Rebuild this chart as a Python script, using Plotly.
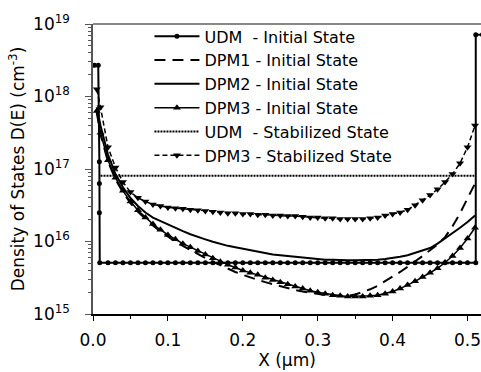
import plotly.graph_objects as go

# ---------------- data ----------------
x_grid = [0.005, 0.01, 0.02, 0.03, 0.04, 0.05, 0.06, 0.07, 0.08, 0.09,
          0.10, 0.11, 0.12, 0.13, 0.14, 0.15, 0.16, 0.17, 0.18, 0.19,
          0.20, 0.21, 0.22, 0.23, 0.24, 0.25, 0.26, 0.27, 0.28, 0.29,
          0.30, 0.31, 0.32, 0.33, 0.34, 0.35, 0.36, 0.37, 0.38, 0.39,
          0.40, 0.41, 0.42, 0.43, 0.44, 0.45, 0.46, 0.47, 0.48, 0.49,
          0.50, 0.51]

udm_init_x = [0.002, 0.007, 0.0085, 0.0085, 0.0085, 0.009,
              0.02, 0.03, 0.04, 0.05, 0.06, 0.07, 0.08, 0.09, 0.10,
              0.11, 0.12, 0.13, 0.14, 0.15, 0.16, 0.17, 0.18, 0.19, 0.20,
              0.21, 0.22, 0.23, 0.24, 0.25, 0.26, 0.27, 0.28, 0.29, 0.30,
              0.31, 0.32, 0.33, 0.34, 0.35, 0.36, 0.37, 0.38, 0.39, 0.40,
              0.41, 0.42, 0.43, 0.44, 0.45, 0.46, 0.47, 0.48, 0.49, 0.50,
              0.511, 0.511, 0.52]
udm_init_y = [2.7e18, 2.7e18, 1.26e17, 6.3e16, 2.5e16, 5.1e15,
              5.1e15, 5.1e15, 5.1e15, 5.1e15, 5.1e15, 5.1e15, 5.1e15, 5.1e15, 5.1e15,
              5.1e15, 5.1e15, 5.1e15, 5.1e15, 5.1e15, 5.1e15, 5.1e15, 5.1e15, 5.1e15, 5.1e15,
              5.1e15, 5.1e15, 5.1e15, 5.1e15, 5.1e15, 5.1e15, 5.1e15, 5.1e15, 5.1e15, 5.1e15,
              5.1e15, 5.1e15, 5.1e15, 5.1e15, 5.1e15, 5.1e15, 5.1e15, 5.1e15, 5.1e15, 5.1e15,
              5.1e15, 5.1e15, 5.1e15, 5.1e15, 5.1e15, 5.1e15, 5.1e15, 5.1e15, 5.1e15, 5.1e15,
              5.1e15, 7.1e18, 7.1e18]

dpm1_init = [6.0e17, 3.02e17, 1.26e17, 7.24e16, 4.79e16, 3.39e16, 2.57e16, 2.04e16, 1.66e16, 1.38e16,
             1.17e16, 1.0e16, 8.71e15, 7.59e15, 6.76e15, 5.89e15, 5.25e15, 4.68e15, 4.17e15, 3.80e15,
             3.47e15, 3.16e15, 2.95e15, 2.75e15, 2.57e15, 2.40e15, 2.24e15, 2.14e15, 2.04e15, 1.95e15,
             1.86e15, 1.82e15, 1.78e15, 1.78e15, 1.78e15, 1.86e15, 2.0e15, 2.19e15, 2.45e15, 2.82e15,
             3.24e15, 3.80e15, 4.47e15, 5.25e15, 6.31e15, 7.59e15, 9.12e15, 1.15e16, 1.62e16, 2.45e16,
             3.98e16, 6.31e16]

dpm2_init = [7.1e17, 3.98e17, 1.58e17, 8.5e16, 5.6e16, 3.98e16, 3.09e16, 2.51e16, 2.14e16, 1.91e16,
             1.75e16, 1.56e16, 1.39e16, 1.26e16, 1.15e16, 1.07e16, 9.9e15, 9.2e15, 8.71e15, 8.32e15,
             7.94e15, 7.59e15, 7.24e15, 6.92e15, 6.61e15, 6.46e15, 6.31e15, 6.17e15, 6.03e15, 5.89e15,
             5.75e15, 5.62e15, 5.62e15, 5.50e15, 5.50e15, 5.50e15, 5.50e15, 5.62e15, 5.62e15, 5.75e15,
             5.89e15, 6.17e15, 6.46e15, 6.92e15, 7.41e15, 8.13e15, 9.33e15, 1.10e16, 1.29e16, 1.55e16,
             1.86e16, 2.29e16]

dpm3_init = [6.3e17, 3.16e17, 1.32e17, 7.6e16, 5.0e16, 3.55e16, 2.69e16, 2.14e16, 1.74e16, 1.45e16,
             1.23e16, 1.07e16, 9.33e15, 8.32e15, 7.41e15, 6.61e15, 5.89e15, 5.25e15, 4.79e15, 4.37e15,
             3.98e15, 3.72e15, 3.47e15, 3.16e15, 2.95e15, 2.75e15, 2.57e15, 2.40e15, 2.24e15, 2.09e15,
             2.00e15, 1.91e15, 1.82e15, 1.78e15, 1.74e15, 1.74e15, 1.74e15, 1.78e15, 1.82e15, 1.91e15,
             2.04e15, 2.24e15, 2.51e15, 2.82e15, 3.24e15, 3.72e15, 4.27e15, 5.13e15, 6.31e15, 8.13e15,
             1.10e16, 1.55e16]

udm_stab_x = [0.010, 0.509]
udm_stab_y = [8.1e16, 8.1e16]

dpm3_stab = [1.26e18, 7.1e17, 2.0e17, 1.05e17, 6.6e16, 4.8e16, 4.0e16, 3.55e16, 3.24e16, 3.09e16,
             2.95e16, 2.88e16, 2.82e16, 2.75e16, 2.69e16, 2.63e16, 2.57e16, 2.51e16, 2.45e16, 2.45e16,
             2.40e16, 2.40e16, 2.34e16, 2.34e16, 2.29e16, 2.29e16, 2.24e16, 2.24e16, 2.19e16, 2.14e16,
             2.14e16, 2.09e16, 2.09e16, 2.04e16, 2.04e16, 2.04e16, 2.04e16, 2.09e16, 2.14e16, 2.29e16,
             2.40e16, 2.51e16, 2.75e16, 3.16e16, 3.72e16, 4.37e16, 5.25e16, 6.61e16, 8.51e16, 1.20e17,
             2.0e17, 3.98e17]

names = ["UDM\u00a0 - Initial State", "DPM1 - Initial State", "DPM2 - Initial State",
         "DPM3 - Initial State", "UDM\u00a0 - Stabilized State", "DPM3 - Stabilized State"]

y_tickvals = [1e15, 1e16, 1e17, 1e18, 1e19]
y_ticktext = ["10<sup>15</sup>", "10<sup>16</sup>", "10<sup>17</sup>", "10<sup>18</sup>", "10<sup>19</sup>"]
y_minor_vals = [m * d for d in (1e15, 1e16, 1e17, 1e18) for m in (2, 3, 4, 5, 6, 7, 8, 9)]
x_tickvals = [0.0, 0.1, 0.2, 0.3, 0.4, 0.5]
x_ticktext = ["0.0", "0.1", "0.2", "0.3", "0.4", "0.5"]
x_minor_vals = [0.05, 0.15, 0.25, 0.35, 0.45]

# ---------------- figure ----------------
BLK = "black"
fig = go.Figure()

fig.add_trace(go.Scatter(x=udm_init_x, y=udm_init_y, name=names[0], mode="lines+markers",
                         line=dict(color=BLK, width=2), marker=dict(symbol="circle", size=5, color=BLK),
                         legendgroup="a"))
fig.add_trace(go.Scatter(x=x_grid, y=dpm1_init, name=names[1], mode="lines",
                         line=dict(color=BLK, width=2, dash="11px,7px"), legendgroup="b"))
fig.add_trace(go.Scatter(x=x_grid, y=dpm2_init, name=names[2], mode="lines",
                         line=dict(color=BLK, width=2), legendgroup="c"))
fig.add_trace(go.Scatter(x=x_grid, y=dpm3_init, name=names[3], mode="lines+markers",
                         line=dict(color=BLK, width=1.5),
                         marker=dict(symbol="triangle-up", size=7, color=BLK), legendgroup="d"))
fig.add_trace(go.Scatter(x=udm_stab_x, y=udm_stab_y, name=names[4], mode="lines",
                         line=dict(color=BLK, width=2, dash="2px,1px"), legendgroup="e"))
fig.add_trace(go.Scatter(x=x_grid, y=dpm3_stab, name=names[5], mode="lines+markers",
                         line=dict(color=BLK, width=1.5, dash="5px,3px"),
                         marker=dict(symbol="triangle-down", size=7, color=BLK), legendgroup="f"))

FONT = "DejaVu Sans"
fig.update_layout(
    width=481, height=372,
    margin=dict(l=93, r=0, t=24, b=58),
    paper_bgcolor="white", plot_bgcolor="white",
    font=dict(family=FONT, color=BLK, size=16),
    showlegend=True,
    legend=dict(x=0.1455, y=1.016, xanchor="left", yanchor="top",
                bgcolor="rgba(0,0,0,0)", borderwidth=0,
                font=dict(family=FONT, size=16, color=BLK),
                tracegroupgap=3, itemwidth=45, traceorder="normal"),
    xaxis=dict(range=[0, 0.518], tickvals=x_tickvals, ticktext=x_ticktext, automargin=False,
               showgrid=False, zeroline=False, showline=True, linecolor=BLK, linewidth=1.5,
               ticks="outside", ticklen=5, tickwidth=1, tickcolor=BLK,
               tickfont=dict(family=FONT, size=17), ticklabelstandoff=5, ticklabeloverflow="allow",
               minor=dict(ticks="outside", ticklen=3, tickvals=x_minor_vals, tickcolor=BLK, showgrid=False),
               title=dict(text="X (\u03bcm)", font=dict(family=FONT, size=17), standoff=4)),
    yaxis=dict(type="log", range=[15, 19], tickvals=y_tickvals, ticktext=y_ticktext, automargin=False,
               showgrid=False, zeroline=False, showline=True, linecolor="#555", linewidth=1.5,
               ticks="outside", ticklen=6, tickwidth=1, tickcolor="#555",
               tickfont=dict(family=FONT, size=17), ticklabelstandoff=12, ticklabeloverflow="allow",
               minor=dict(ticks="outside", ticklen=3, tickvals=y_minor_vals, tickcolor="#555", showgrid=False),
               title=dict(text="Density of States D(E) (cm<sup>-3</sup>)",
                          font=dict(family=FONT, size=17), standoff=4)),
    shapes=[dict(type="line", xref="paper", yref="paper", x0=0, x1=1, y0=1, y1=1,
                 line=dict(color="#888", width=2))],
)

fig.write_html("out.html", config={"displayModeBar": False},
               post_script="document.body.style.margin='0';document.body.style.overflow='hidden';")
